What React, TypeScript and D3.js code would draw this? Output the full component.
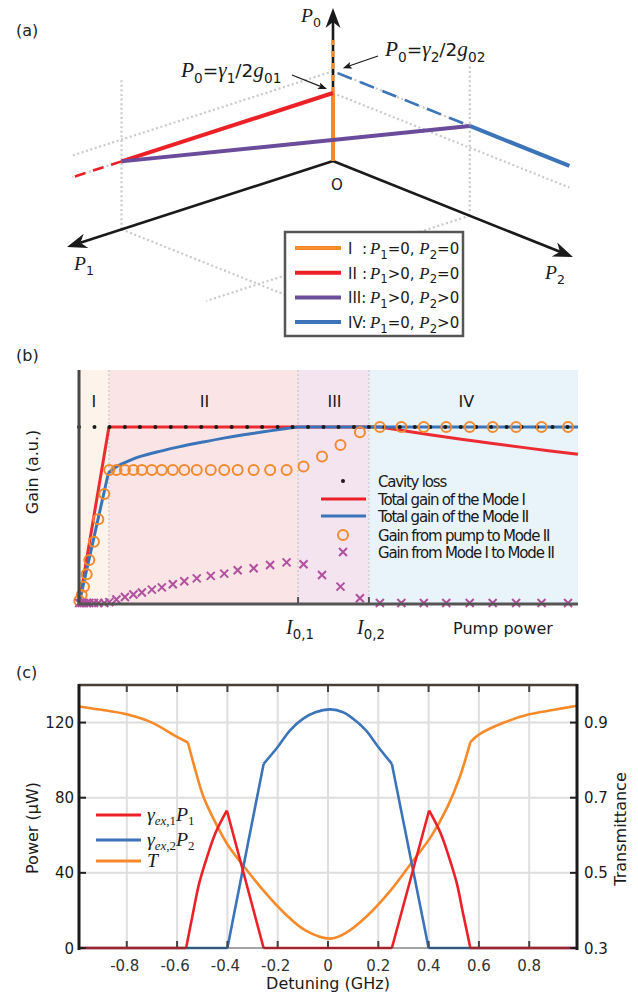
import React from 'react';
import * as d3 from 'd3';

// ---------------- Panel (a): schematic in (P1, P2, P0) coordinates ----------------
const aOrangeSolid = [[0, 0, 0], [0, 0, 1]];
const aOrangeDash = [[0, 0, 1], [0, 0, 1.78]];
const aP0Axis = [[0, 0, 0], [0, 0, 2.25]];
const aP1Axis = [[0, 0, 0], [2, 0, 0]];
const aP2Axis = [[0, 0, 0], [0, 2, 0]];
const aRed = [[0, 0, 1], [1.59, 0, 1]];
const aRedDash = [[1.59, 0, 1], [1.96, 0, 1]];
const aPurple = [[1.59, 0, 1], [0, 1.14, 1.32]];
const aBlue = [[0, 1.14, 1.32], [0, 1.97, 1.32]];
const aBlueDash = [[0, 0.04, 1.32], [0, 1.14, 1.32]];
const aGuides = [
  [[0, 0, 1.32], [1.96, 0, 1.32]],
  [[0, 0, 1], [0, 1.97, 1]],
  [[0, 0, 1.32], [0, 1.14, 1.32]],
  [[1.59, 0, 1], [1.96, 0, 1]],
  [[1.59, 0, 0], [1.59, 0, 2.2]],
  [[0, 1.14, 0], [0, 1.14, 2.2]],
  [[1.59, 0, 0], [1.59, 1.36, 0]],
  [[0, 1.14, 0], [1.98, 1.14, 0]],
];
const aLegendRoman = ['I', 'II', 'III:', 'IV:'];
const aLegendColon = [true, true, false, false];
const aLegendP1 = ['=0, ', '>0, ', '>0, ', '=0, '];
const aLegendP2 = ['=0', '=0', '>0', '>0'];
const aLegendColors = ['#f68a2a', '#ec2027', '#6a4c9b', '#3b74b9'];

// ---------------- Panel (b): gain vs pump power ----------------
const bRegionEdges = [0, 6.0, 43.9, 58.1, 100];
const bRegionNames = ['I', 'II', 'III', 'IV'];
const bRegionFills = ['#fdf3ea', '#fbe4e6', '#f3e4ef', '#e9f3fa'];
const bThresholds = [43.9, 58.1];
const bCavityX = [0, 3.1, 6.1, 9.2, 12.2, 15.3, 18.4, 21.4, 24.5, 27.5, 30.6, 33.7, 36.7, 39.8, 42.8, 45.9, 49, 52, 55.1, 58.1, 61.2, 64.3, 67.3, 70.4, 73.4, 76.5, 79.6, 82.6, 85.7, 88.7, 91.8, 94.9, 97.9];
const bCavityLoss = 1.0;
const bRedX = [0.05, 6.0, 60.3, 70, 80, 90, 100];
const bRedY = [0, 1, 1, 0.957, 0.918, 0.88, 0.845];
const bRedKinks = [1, 2];
const bBlueX = [0.05, 5.9, 7.5, 8.6, 12, 16.8, 20, 24.9, 29, 33, 37, 41.2, 43.9, 100];
const bBlueY = [0, 0.74, 0.775, 0.79, 0.83, 0.866, 0.887, 0.915, 0.937, 0.956, 0.973, 0.99, 1.0, 1.0];
const bBlueKinks = [1, 12];
const bPumpX = [0.06, 0.54, 1.0, 1.54, 2.07, 3.0, 3.87, 5.07, 6.07, 7.5, 9.2, 10.9, 12.6, 14.6, 16.6, 18.8, 21.1, 23.6, 26.4, 29.1, 31.8, 35.0, 38.3, 41.6, 45.0, 48.7, 52.4, 56.3, 60.3, 64.6, 69.1, 73.6, 78.3, 82.9, 87.6, 92.7, 98.0];
const bFromPump = [0.013, 0.045, 0.093, 0.163, 0.244, 0.348, 0.476, 0.62, 0.756, 0.756, 0.756, 0.756, 0.756, 0.756, 0.756, 0.756, 0.756, 0.756, 0.756, 0.756, 0.756, 0.756, 0.756, 0.756, 0.775, 0.833, 0.898, 0.97, 1, 1, 1, 1, 1, 1, 1, 1, 1];
const bFromMode = [0, 0, 0, 0, 0, 0, 0, 0, 0.005, 0.02, 0.034, 0.048, 0.06, 0.076, 0.089, 0.107, 0.124, 0.14, 0.154, 0.167, 0.186, 0.197, 0.216, 0.231, 0.22, 0.159, 0.093, 0.027, 0, 0, 0, 0, 0, 0, 0, 0, 0];
const bLegendLabels = ['Cavity loss', 'Total gain of the Mode I', 'Total gain of the Mode II', 'Gain from pump to Mode II', 'Gain from Mode I to Mode II'];

// ---------------- Panel (c): power & transmittance vs detuning ----------------
const cDetRed = [-0.99, -0.564, -0.537, -0.512, -0.48, -0.447, -0.402, -0.256, 0.254, 0.402, 0.447, 0.48, 0.512, 0.537, 0.566, 0.99];
const cPowRed = [0, 0, 18.4, 34.5, 48.8, 61.3, 73.2, 0, 0, 73.2, 61.3, 48.8, 34.5, 18.4, 0, 0];
const cRedKinks = [1, 6, 7, 8, 9, 14];
const cDetBlue = [-0.99, -0.40, -0.256, -0.2, -0.15, -0.1, -0.05, 0.01, 0.06, 0.1, 0.15, 0.2, 0.254, 0.40, 0.99];
const cPowBlue = [0, 0, 98, 107, 116, 122, 125.5, 127, 125.5, 122, 116, 107, 98, 0, 0];
const cBlueKinks = [1, 2, 12, 13];
const cDetT = [-0.99, -0.9, -0.8, -0.7, -0.6, -0.557, -0.528, -0.496, -0.447, -0.399, -0.334, -0.253, -0.172, -0.09, 0.01, 0.071, 0.152, 0.25, 0.33, 0.41, 0.476, 0.525, 0.566, 0.6, 0.7, 0.8, 0.9, 0.99];
const cTrans = [0.943, 0.934, 0.922, 0.9, 0.862, 0.847, 0.775, 0.704, 0.633, 0.575, 0.517, 0.45, 0.392, 0.347, 0.325, 0.34, 0.383, 0.454, 0.525, 0.597, 0.677, 0.757, 0.848, 0.868, 0.9, 0.922, 0.934, 0.945];
const cTKinks = [5, 22];
const cXTicks = [-0.8, -0.6, -0.4, -0.2, 0, 0.2, 0.4, 0.6, 0.8];
const cYTicks = [0, 40, 80, 120];
const cTTicks = [0.3, 0.5, 0.7, 0.9];

const SANS = 'DejaVu Sans, Verdana, sans-serif';
const SERIF = 'Liberation Serif, Times New Roman, serif';

type Seg = { t: string; it?: boolean; serif?: boolean; sub?: boolean };

function Rich({ x, y, segs, size, anchor = 'start', fill = '#1a1a1a', mathScale = 1.15, subScale = 0.74, subShift = 0.3 }: any) {
  let cur = 0;
  const spans = (segs as Seg[]).map((s, i) => {
    const target = s.sub ? size * subShift : 0;
    const dy = target - cur;
    cur = target;
    const fam = s.it || s.serif ? SERIF : SANS;
    const fs = s.sub ? size * subScale : s.it ? size * mathScale : size;
    return (
      <tspan key={i} dy={dy} fontFamily={fam} fontStyle={s.it ? 'italic' : 'normal'} fontSize={fs}>
        {s.t}
      </tspan>
    );
  });
  return (
    <text x={x} y={y} textAnchor={anchor} fill={fill} style={{ whiteSpace: 'pre' }}>
      {spans}
    </text>
  );
}

// piecewise smooth path: smooth between kinks, sharp corners at kinks
function piecewise(xs: number[], ys: number[], kinks: number[], sx: any, sy: any) {
  const bounds = [0, ...kinks, xs.length - 1];
  const gen = d3.line<number>().x((i) => sx(xs[i])).y((i) => sy(ys[i])).curve(d3.curveCatmullRom.alpha(0.5));
  let d = '';
  for (let k = 0; k < bounds.length - 1; k++) {
    const ids = d3.range(bounds[k], bounds[k + 1] + 1);
    d += gen(ids) as string;
  }
  return d;
}

function arrowHead(tip: number[], from: number[], len = 20, half = 7, notch = 6) {
  const dx = tip[0] - from[0];
  const dy = tip[1] - from[1];
  const L = Math.hypot(dx, dy);
  const ux = dx / L, uy = dy / L;
  const px = -uy, py = ux;
  const bx = tip[0] - ux * len, by = tip[1] - uy * len;
  const nx = tip[0] - ux * (len - notch), ny = tip[1] - uy * (len - notch);
  return `M${tip[0]},${tip[1]} L${bx + px * half},${by + py * half} L${nx},${ny} L${bx - px * half},${by - py * half} Z`;
}
function shorten(tip: number[], from: number[], d: number) {
  const dx = tip[0] - from[0];
  const dy = tip[1] - from[1];
  const L = Math.hypot(dx, dy);
  return [tip[0] - (dx / L) * d, tip[1] - (dy / L) * d];
}

function PanelA() {
  const ox = 333, oy = 161;
  const p1x = d3.scaleLinear([0, 2], [0, -266]);
  const p1y = d3.scaleLinear([0, 2], [0, 86]);
  const p2x = d3.scaleLinear([0, 2], [0, 240]);
  const p2y = d3.scaleLinear([0, 2], [0, 96]);
  const p0y = d3.scaleLinear([0, 1], [0, -68]);
  const proj = (p: number[]) => [ox + p1x(p[0]) + p2x(p[1]), oy + p1y(p[0]) + p2y(p[1]) + p0y(p[2])];
  const line = d3.line<number[]>().x((p) => proj(p)[0]).y((p) => proj(p)[1]);

  const axes = [aP0Axis, aP1Axis, aP2Axis].map((ax) => {
    const from = proj(ax[0]);
    const tip = proj(ax[1]);
    const end = shorten(tip, from, 14);
    return { from, tip, end };
  });

  const junc1 = proj([0, 0, 1]);
  const junc2 = proj([0, 0.04, 1.32]);

  return (
    <g>
      <text x={16} y={36} fontFamily={SANS} fontSize={16} fill="#222">(a)</text>
      {aGuides.map((g, i) => (
        <path key={i} d={line(g) as string} stroke="#c9c9c9" strokeWidth={2.2} strokeDasharray="2 2.6" fill="none" />
      ))}
      {axes.map((a, i) => (
        <g key={i}>
          <line x1={a.from[0]} y1={a.from[1]} x2={a.end[0]} y2={a.end[1]} stroke="#1a1a1a" strokeWidth={2.6} />
          <path d={arrowHead(a.tip, a.from, 20, 7.5, 6)} fill="#1a1a1a" />
        </g>
      ))}
      <path d={line(aOrangeSolid) as string} stroke="#f68a2a" strokeWidth={4} fill="none" />
      <path d={line(aOrangeDash) as string} stroke="#f68a2a" strokeWidth={3} strokeDasharray="6 6" fill="none" />
      <path d={line(aRedDash) as string} stroke="#ec2027" strokeWidth={2.6} strokeDasharray="11 8" fill="none" />
      <path d={line(aBlueDash) as string} stroke="#3b74b9" strokeWidth={2.6} strokeDasharray="15 9" fill="none" />
      <path d={line(aRed) as string} stroke="#ec2027" strokeWidth={4} fill="none" />
      <path d={line(aBlue) as string} stroke="#3b74b9" strokeWidth={4} fill="none" />
      <path d={line(aPurple) as string} stroke="#6a4c9b" strokeWidth={4} fill="none" />
      <text x={ox + 4} y={oy + 29} textAnchor="middle" fontFamily={SANS} fontSize={15} fill="#1a1a1a">O</text>
      <Rich x={301} y={22} size={17} segs={[{ t: 'P', it: true }, { t: '0', sub: true }]} />
      <Rich x={74} y={270} size={17} segs={[{ t: 'P', it: true }, { t: '1', sub: true }]} />
      <Rich x={545} y={279} size={17} segs={[{ t: 'P', it: true }, { t: '2', sub: true }]} />
      <Rich x={181} y={77} size={18.5} segs={[{ t: 'P', it: true }, { t: '0', sub: true }, { t: '=' }, { t: 'γ', it: true }, { t: '1', sub: true }, { t: '/' }, { t: '2' }, { t: 'g', it: true }, { t: '01', sub: true }]} />
      <Rich x={385} y={56} size={18.5} segs={[{ t: 'P', it: true }, { t: '0', sub: true }, { t: '=' }, { t: 'γ', it: true }, { t: '2', sub: true }, { t: '/' }, { t: '2' }, { t: 'g', it: true }, { t: '02', sub: true }]} />
      {[
        { from: [292, 75], tip: [junc1[0] - 6, junc1[1] - 4] },
        { from: [378, 56], tip: [junc2[0] + 5, junc2[1] - 5] },
      ].map((a, i) => {
        const end = shorten(a.tip, a.from, 5);
        return (
          <g key={i}>
            <line x1={a.from[0]} y1={a.from[1]} x2={end[0]} y2={end[1]} stroke="#1a1a1a" strokeWidth={1.2} />
            <path d={arrowHead(a.tip, a.from, 9, 3.5, 2)} fill="#1a1a1a" />
          </g>
        );
      })}
      <rect x={285} y={232} width={178} height={104} fill="#fff" stroke="#555" strokeWidth={2.5} />
      {aLegendRoman.map((r, i) => {
        const y = 248 + i * 24.7;
        return (
          <g key={i}>
            <line x1={295} x2={341} y1={y} y2={y} stroke={aLegendColors[i]} strokeWidth={4} />
            <text x={348} y={y + 6} fontFamily={SANS} fontSize={15} fill="#1a1a1a">{r}</text>
            {aLegendColon[i] && <text x={362} y={y + 6} fontFamily={SANS} fontSize={15} fill="#1a1a1a">:</text>}
            <Rich x={370} y={y + 6} size={15} mathScale={1.12} subScale={0.78} segs={[{ t: 'P', it: true }, { t: '1', sub: true }, { t: aLegendP1[i] }, { t: 'P', it: true }, { t: '2', sub: true }, { t: aLegendP2[i] }]} />
          </g>
        );
      })}
    </g>
  );
}

function PanelB() {
  const x = d3.scaleLinear([0, 100], [79, 578]);
  const y = d3.scaleLinear([0, 1.324], [603, 370]);
  const crossPath = (cx: number, cy: number, s = 4) => `M${cx - s},${cy - s}L${cx + s},${cy + s}M${cx - s},${cy + s}L${cx + s},${cy - s}`;
  const legX = 343;
  const legRows = [481, 499, 516, 535, 552];
  return (
    <g>
      <text x={16} y={361} fontFamily={SANS} fontSize={16} fill="#222">(b)</text>
      {bRegionNames.map((n, i) => (
        <rect key={n} x={x(bRegionEdges[i])} y={370} width={x(bRegionEdges[i + 1]) - x(bRegionEdges[i])} height={604 - 370} fill={bRegionFills[i]} />
      ))}
      {bRegionEdges.slice(1, 4).map((e, i) => (
        <line key={i} x1={x(e)} x2={x(e)} y1={370} y2={603} stroke="#cfcfcf" strokeWidth={1.5} strokeDasharray="2 2" />
      ))}
      {bRegionNames.map((n, i) => (
        <text key={n} x={x((bRegionEdges[i] + bRegionEdges[i + 1]) / 2) + (i === 0 ? 0 : i === 3 ? -7 : 1)} y={407} textAnchor="middle" fontFamily={SANS} fontSize={16} fill="#1a1a1a">{n}</text>
      ))}
      <path d={piecewise(bRedX, bRedY, bRedKinks, x, y)} stroke="#ec2027" strokeWidth={3} fill="none" strokeOpacity={0.95} />
      <path d={piecewise(bBlueX, bBlueY, bBlueKinks, x, y)} stroke="#3b74b9" strokeWidth={3} fill="none" />
      {bCavityX.map((v, i) => (
        <circle key={i} cx={x(v)} cy={y(bCavityLoss)} r={2} fill="#1a1a1a" />
      ))}
      {bPumpX.map((v, i) => (
        <circle key={i} cx={x(v)} cy={y(bFromPump[i])} r={5} fill="none" stroke="#f28a30" strokeWidth={2} />
      ))}
      {bPumpX.map((v, i) => (
        <path key={i} d={crossPath(x(v), y(bFromMode[i]))} stroke="#b0509f" strokeWidth={2} fill="none" />
      ))}
      <line x1={79} x2={79} y1={370} y2={605} stroke="#474747" strokeWidth={3} />
      <line x1={78} x2={578} y1={604} y2={604} stroke="#555" strokeWidth={3} />
      {bThresholds.map((t, i) => (
        <line key={i} x1={x(t)} x2={x(t)} y1={604} y2={597} stroke="#555" strokeWidth={2} />
      ))}
      <Rich x={x(bThresholds[0]) + 2} y={634} size={18} anchor="middle" mathScale={1.12} segs={[{ t: 'I', it: true }, { t: '0,1', sub: true }]} />
      <Rich x={x(bThresholds[1]) + 2} y={634} size={18} anchor="middle" mathScale={1.12} segs={[{ t: 'I', it: true }, { t: '0,2', sub: true }]} />
      <text x={503} y={634} textAnchor="middle" fontFamily={SANS} fontSize={16} fill="#1a1a1a">Pump power</text>
      <text transform={`translate(38,472) rotate(-90)`} textAnchor="middle" fontFamily={SANS} fontSize={16} fill="#1a1a1a">Gain (a.u.)</text>
      <circle cx={legX} cy={legRows[0]} r={2} fill="#1a1a1a" />
      <line x1={321} x2={366} y1={legRows[1]} y2={legRows[1]} stroke="#ec2027" strokeWidth={3} />
      <line x1={321} x2={366} y1={legRows[2]} y2={legRows[2]} stroke="#3b74b9" strokeWidth={3} />
      <circle cx={legX} cy={legRows[3]} r={5} fill="none" stroke="#f28a30" strokeWidth={2} />
      <path d={crossPath(legX, legRows[4])} stroke="#b0509f" strokeWidth={2} fill="none" />
      {bLegendLabels.map((l, i) => (
        <text key={i} x={378} y={legRows[i] + 5.5} fontFamily={SANS} fontSize={15} letterSpacing={-1.2} fill="#1a1a1a">{l}</text>
      ))}
    </g>
  );
}

function PanelC() {
  const x = d3.scaleLinear([-0.99, 0.99], [79, 577]);
  const y = d3.scaleLinear([0, 140], [948, 685]);
  const yT = d3.scaleLinear([0.3, 1.0], [948, 685]);
  const fmt = (t: number) => (t === 0 ? '0' : d3.format('.1f')(t).replace('\u2212', '-'));
  const legend = [
    { c: '#ec2027', segs: [{ t: 'γ', it: true }, { t: 'ex', sub: true, it: true }, { t: ',1', sub: true, serif: true }, { t: 'P', it: true }, { t: '1', sub: true, serif: true }] },
    { c: '#3b74b9', segs: [{ t: 'γ', it: true }, { t: 'ex', sub: true, it: true }, { t: ',2', sub: true, serif: true }, { t: 'P', it: true }, { t: '2', sub: true, serif: true }] },
    { c: '#f68a2a', segs: [{ t: 'T', it: true }] },
  ];
  return (
    <g>
      <text x={16} y={678} fontFamily={SANS} fontSize={16} fill="#222">(c)</text>
      {cXTicks.map((t) => (
        <line key={t} x1={x(t)} x2={x(t)} y1={685} y2={948} stroke="#dedede" strokeWidth={2} />
      ))}
      {cYTicks.slice(1).map((t) => (
        <line key={t} x1={79} x2={577} y1={y(t)} y2={y(t)} stroke="#dedede" strokeWidth={2} />
      ))}
      <path d={piecewise(cDetT, cTrans, cTKinks, x, yT)} stroke="#f68a2a" strokeWidth={2.6} fill="none" />
      <path d={piecewise(cDetBlue, cPowBlue, cBlueKinks, x, y)} stroke="#3b74b9" strokeWidth={2.6} fill="none" />
      <path d={piecewise(cDetRed, cPowRed, cRedKinks, x, y)} stroke="#ec2027" strokeWidth={2.6} fill="none" />
      <line x1={79} x2={577} y1={685} y2={685} stroke="#4a3f36" strokeWidth={2.5} />
      <line x1={79} x2={577} y1={948} y2={948} stroke="#333" strokeWidth={1.5} strokeOpacity={0.6} />
      <line x1={79} x2={79} y1={684} y2={950} stroke="#1a1a1a" strokeWidth={3} />
      <line x1={577} x2={577} y1={684} y2={950} stroke="#1a1a1a" strokeWidth={3} />
      {cXTicks.map((t) => (
        <g key={t}>
          <line x1={x(t)} x2={x(t)} y1={686} y2={692} stroke="#444" strokeWidth={2} />
          <line x1={x(t)} x2={x(t)} y1={947} y2={941} stroke="#444" strokeWidth={2} />
          <text x={x(t) - (t < 0 ? 2 : 0)} y={971} textAnchor="middle" fontFamily={SANS} fontSize={15} fill="#333">{fmt(t)}</text>
        </g>
      ))}
      {cYTicks.map((t) => (
        <g key={t}>
          <line x1={80} x2={86} y1={y(t)} y2={y(t)} stroke="#222" strokeWidth={2} />
          <text x={74} y={y(t) + 5.5} textAnchor="end" fontFamily={SANS} fontSize={15} fill="#1a1a1a">{t}</text>
        </g>
      ))}
      {cTTicks.map((t) => (
        <g key={t}>
          <line x1={570} x2={576} y1={yT(t)} y2={yT(t)} stroke="#222" strokeWidth={2} />
          <text x={584} y={yT(t) + 5.5} textAnchor="start" fontFamily={SANS} fontSize={15} fill="#1a1a1a">{d3.format('.1f')(t)}</text>
        </g>
      ))}
      <text x={328} y={989} textAnchor="middle" fontFamily={SANS} fontSize={16} fill="#1a1a1a">Detuning (GHz)</text>
      <text transform={`translate(38,828) rotate(-90)`} textAnchor="middle" fontFamily={SANS} fontSize={16} fill="#1a1a1a">Power (μW)</text>
      <text transform={`translate(626,829) rotate(-90)`} textAnchor="middle" fontFamily={SANS} fontSize={16} fill="#1a1a1a">Transmittance</text>
      {legend.map((l, i) => {
        const yy = [815, 840, 861][i];
        return (
          <g key={i}>
            <line x1={96} x2={141} y1={yy} y2={yy} stroke={l.c} strokeWidth={2.8} />
            <Rich x={147} y={yy + 6} size={18} mathScale={1.1} subScale={0.72} subShift={0.2} segs={l.segs} />
          </g>
        );
      })}
    </g>
  );
}

export default function App() {
  return (
    <svg width={638} height={997} viewBox="0 0 638 997" style={{ position: 'absolute', left: 0, top: 0, background: '#fff' }}>
      <rect x={0} y={0} width={638} height={997} fill="#fff" />
      <PanelA />
      <PanelB />
      <PanelC />
    </svg>
  );
}
